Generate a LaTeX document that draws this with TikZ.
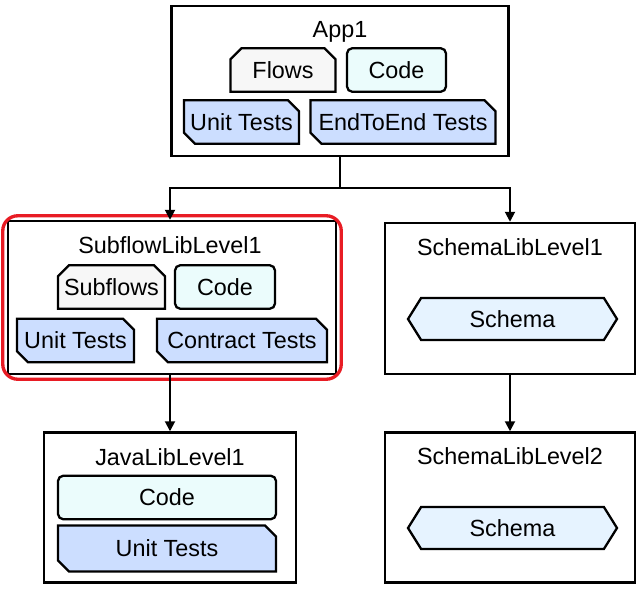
\documentclass[tikz,border=0pt]{standalone}
\usepackage{fontspec}
\setmainfont{Liberation Sans}
\usepackage{tikz}
\definecolor{flowgray}{RGB}{247,247,247}
\definecolor{codecyan}{RGB}{235,252,252}
\definecolor{testblue}{RGB}{204,222,255}
\definecolor{schemablue}{RGB}{230,243,255}
\definecolor{markred}{RGB}{232,28,36}
\usetikzlibrary{shapes.misc,shapes.symbols,arrows.meta,fit,calc}

\begin{document}
\begin{tikzpicture}[
    font=\fontsize{13.3}{15}\selectfont,
    libbox/.style={rectangle, draw=black, line width=1.4pt, fill=white, minimum height=3cm, inner sep=0pt},
    title/.style={inner sep=0pt},
    part/.style={draw=black, line width=1.3pt, inner sep=0pt, minimum height=0.87cm},
    flows/.style={part, chamfered rectangle, chamfered rectangle corners={north west,north east}, chamfered rectangle xsep=0.11cm, chamfered rectangle ysep=0.11cm, fill=flowgray},
    code/.style={part, rectangle, rounded corners=3pt, fill=codecyan},
    tests/.style={part, chamfered rectangle, chamfered rectangle corners={north east,south west}, chamfered rectangle xsep=0.11cm, chamfered rectangle ysep=0.11cm, fill=testblue},
    schema/.style={part, signal, signal to=west and east, signal pointer angle=116, fill=schemablue},
    highlight/.style={draw=markred, line width=1.9pt, rounded corners=0.3cm, inner sep=0.08cm},
    arrow/.style={-{Triangle[length=0.2cm,width=0.2cm]}, line width=1.1pt}
]
\useasboundingbox (0,0) rectangle (12.84,-11.78);

% App1
\node[libbox, minimum width=6.74cm] (app) at (6.8,-1.62) {};
\node[title] (apptitle) at (6.8,-0.64) {App1};
\node[flows, minimum width=2.1cm] (appflows) at (5.66,-1.40) {Flows};
\node[code, minimum width=1.98cm] (appcode) at (7.93,-1.40) {Code};
\node[tests, minimum width=2.3cm] (appunit) at (4.83,-2.44) {Unit Tests};
\node[tests, minimum width=3.7cm] (appe2e) at (8.06,-2.44) {EndToEnd Tests};

% SubflowLibLevel1
\node[libbox, minimum width=6.56cm, minimum height=3.06cm] (sub) at (3.44,-5.95) {};
\node[highlight, fit=(sub)] (submark) {};
\node[title] (subtitle) at (3.4,-4.9) {SubflowLibLevel1};
\node[flows, minimum width=2.14cm] (subflows) at (2.23,-5.74) {Subflows};
\node[code, minimum width=2.0cm] (subcode) at (4.5,-5.74) {Code};
\node[tests, minimum width=2.34cm] (subunit) at (1.51,-6.81) {Unit Tests};
\node[tests, minimum width=3.4cm] (subcontract) at (4.84,-6.81) {Contract Tests};

% JavaLibLevel1
\node[libbox, minimum width=5.04cm] (java) at (3.4,-10.15) {};
\node[title] (javatitle) at (3.4,-9.14) {JavaLibLevel1};
\node[code, minimum width=4.36cm] (javacode) at (3.34,-9.95) {Code};
\node[tests, minimum width=4.36cm, minimum height=0.92cm] (javaunit) at (3.34,-10.97) {Unit Tests};

% SchemaLibLevel1 / 2
\node[libbox, minimum width=5.0cm, minimum height=3.02cm] (schemaA) at (10.2,-5.97) {};
\node[title] (schemaAtitle) at (10.2,-4.94) {SchemaLibLevel1};
\node[schema, minimum width=4.18cm, minimum height=0.84cm] (schemaAitem) at (10.25,-6.38) {Schema};

\node[libbox, minimum width=5.0cm] (schemaB) at (10.2,-10.15) {};
\node[title] (schemaBtitle) at (10.2,-9.12) {SchemaLibLevel2};
\node[schema, minimum width=4.18cm, minimum height=0.84cm] (schemaBitem) at (10.25,-10.56) {Schema};

% dependencies
\coordinate (split) at ($(app.south)+(0,-0.62)$);
\draw[arrow] (app.south) -- (split) -| (java.north |- sub.north);
\draw[arrow] (split) -| (schemaA.north);
\draw[arrow] (java.north |- sub.south) -- (java.north);
\draw[arrow] (schemaA.south) -- (schemaB.north);

\end{tikzpicture}
\end{document}
